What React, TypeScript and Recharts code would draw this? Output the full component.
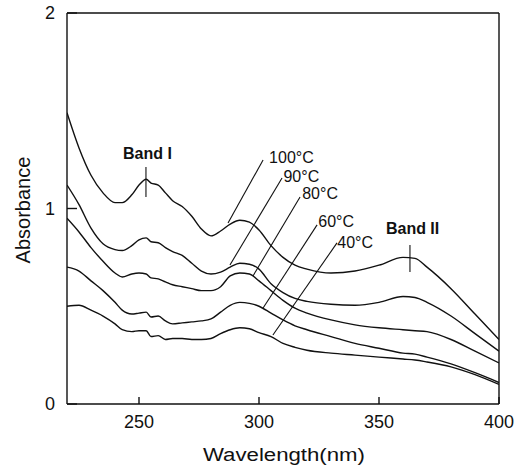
import { Label, Line, LineChart, ReferenceDot, ReferenceLine, XAxis, YAxis } from "recharts";

const FONT = '"Liberation Sans", Arial, sans-serif';
const INK = "#111";

// wavelength grid (nm) shared by all curves
const wavelength = [
  220, 225, 230, 235, 240, 243, 247, 250, 253, 255, 258, 261, 264, 268, 272, 276, 280, 284, 288,
  292, 296, 300, 305, 310, 315, 320, 330, 340, 350, 360, 365, 370, 380, 390, 400,
];

const abs100 = [
  1.49, 1.31, 1.17, 1.08, 1.03, 1.03, 1.07, 1.12, 1.15, 1.13, 1.12, 1.08, 1.04, 1.01, 0.96, 0.895,
  0.86, 0.885, 0.92, 0.94, 0.93, 0.89, 0.81, 0.75, 0.71, 0.69, 0.67, 0.68, 0.71, 0.75, 0.745, 0.7,
  0.59, 0.46, 0.33,
];
const abs90 = [
  1.12, 1.02, 0.9, 0.82, 0.79, 0.785, 0.81, 0.84, 0.85, 0.83, 0.825, 0.8, 0.78, 0.76, 0.72, 0.68,
  0.665, 0.675, 0.7, 0.72, 0.715, 0.69, 0.615, 0.57, 0.54, 0.525, 0.51, 0.505, 0.52, 0.55, 0.545,
  0.52, 0.45, 0.36, 0.27,
];
const abs80 = [
  0.95, 0.88, 0.8, 0.73, 0.67, 0.65, 0.665, 0.67, 0.665, 0.645, 0.64, 0.625, 0.61, 0.6, 0.59, 0.58,
  0.58, 0.6, 0.655, 0.67, 0.665, 0.63, 0.58, 0.53, 0.49, 0.465, 0.43, 0.405, 0.39, 0.38, 0.375,
  0.37, 0.33, 0.27, 0.21,
];
const abs60 = [
  0.7, 0.68, 0.63, 0.58, 0.52, 0.48, 0.46, 0.465, 0.47, 0.445, 0.45, 0.425, 0.41, 0.415, 0.42,
  0.425, 0.435, 0.47, 0.505, 0.52, 0.515, 0.5, 0.465, 0.43, 0.4, 0.38, 0.345, 0.31, 0.285, 0.26,
  0.255, 0.24, 0.205, 0.16, 0.11,
];
const abs40 = [
  0.5, 0.505, 0.48, 0.45, 0.41, 0.38, 0.37, 0.375, 0.375, 0.345, 0.35, 0.33, 0.335, 0.335, 0.33,
  0.33, 0.335, 0.36, 0.38, 0.39, 0.385, 0.365, 0.345, 0.31, 0.29, 0.275, 0.26, 0.25, 0.24, 0.23,
  0.225, 0.215, 0.19, 0.15, 0.1,
];

const xTicks = [250, 300, 350, 400];
const yTicks = [0, 1, 2];

const seriesKeys = ["t100", "t90", "t80", "t60", "t40"];

const rows = wavelength.map((w, i) => ({
  w,
  t100: abs100[i],
  t90: abs90[i],
  t80: abs80[i],
  t60: abs60[i],
  t40: abs40[i],
}));

// temperature labels (left edge, middle) and their leader lines, in data units
const tempLabels = [
  { text: "100°C", x: 304.2, y: 1.263 },
  { text: "90°C", x: 310.2, y: 1.166 },
  { text: "80°C", x: 318, y: 1.077 },
  { text: "60°C", x: 324.7, y: 0.934 },
  { text: "40°C", x: 332.6, y: 0.826 },
];
const leaders = [
  [301.7, 1.248, 287.1, 0.926],
  [309.6, 1.156, 287.9, 0.711],
  [317.1, 1.059, 297.5, 0.655],
  [324.2, 0.916, 301.7, 0.491],
  [332.5, 0.824, 305.8, 0.353],
];

const bandLabels = [
  { text: "Band I", x: 253.5, y: 1.279 },
  { text: "Band II", x: 364, y: 0.9 },
];
const bandMarks = [
  [252.9, 1.212, 1.059],
  [362.9, 0.813, 0.675],
];

function AnnoText(props: any) {
  const { viewBox, text, bold, anchor } = props;
  return (
    <text
      x={viewBox.x}
      y={viewBox.y}
      textAnchor={anchor}
      dominantBaseline="central"
      fill={INK}
      fontFamily={FONT}
      fontSize={16}
      fontWeight={bold ? 700 : 400}
    >
      {text}
    </text>
  );
}

export default function App() {
  return (
    <div style={{ position: "absolute", left: 0, top: 0, background: "#fff" }}>
      <LineChart
        width={519}
        height={467}
        data={rows}
        margin={{ top: 13, right: 20, bottom: 33, left: 27 }}
      >
        <XAxis
          dataKey="w"
          type="number"
          domain={[220, 400]}
          ticks={xTicks}
          allowDataOverflow
          stroke={INK}
          strokeWidth={1.4}
          tickSize={-7}
          tickMargin={18}
          height={30}
          tick={{ fill: INK, fontSize: 18, fontFamily: FONT }}
        >
          <Label
            content={() => (
              <text
                x={203}
                y={461}
                textLength={162}
                lengthAdjust="spacingAndGlyphs"
                fill={INK}
                fontFamily={FONT}
                fontSize={18}
              >
                Wavelength(nm)
              </text>
            )}
          />
        </XAxis>
        <YAxis
          type="number"
          domain={[0, 2]}
          ticks={yTicks}
          allowDataOverflow
          stroke={INK}
          strokeWidth={1.4}
          tickSize={-10}
          tickMargin={22}
          width={40}
          tick={{ fill: INK, fontSize: 18, fontFamily: FONT }}
        >
          <Label
            content={() => (
              <text
                x={23}
                y={210}
                transform="rotate(-90 23 210)"
                textAnchor="middle"
                dominantBaseline="central"
                fill={INK}
                fontFamily={FONT}
                fontSize={20}
              >
                Absorbance
              </text>
            )}
          />
        </YAxis>
        <ReferenceLine y={2} stroke={INK} strokeWidth={1.4} ifOverflow="extendDomain" />
        <ReferenceLine x={400} stroke={INK} strokeWidth={1.4} ifOverflow="extendDomain" />
        {seriesKeys.map((k) => (
          <Line
            key={k}
            dataKey={k}
            type="monotone"
            stroke={INK}
            strokeWidth={1.4}
            dot={false}
            activeDot={false}
            isAnimationActive={false}
          />
        ))}
        {leaders.map(([x1, y1, x2, y2], i) => (
          <ReferenceLine
            key={"ld" + i}
            segment={[
              { x: x1, y: y1 },
              { x: x2, y: y2 },
            ]}
            stroke={INK}
            strokeWidth={1.1}
          />
        ))}
        {bandMarks.map(([x, y1, y2], i) => (
          <ReferenceLine
            key={"bm" + i}
            segment={[
              { x, y: y1 },
              { x, y: y2 },
            ]}
            stroke={INK}
            strokeWidth={1.1}
          />
        ))}
        {tempLabels.map((t) => (
          <ReferenceDot
            key={t.text}
            x={t.x}
            y={t.y}
            r={0}
            fill="none"
            stroke="none"
            label={<AnnoText text={t.text} anchor="start" />}
          />
        ))}
        {bandLabels.map((b) => (
          <ReferenceDot
            key={b.text}
            x={b.x}
            y={b.y}
            r={0}
            fill="none"
            stroke="none"
            label={<AnnoText text={b.text} anchor="middle" bold />}
          />
        ))}
      </LineChart>
    </div>
  );
}
